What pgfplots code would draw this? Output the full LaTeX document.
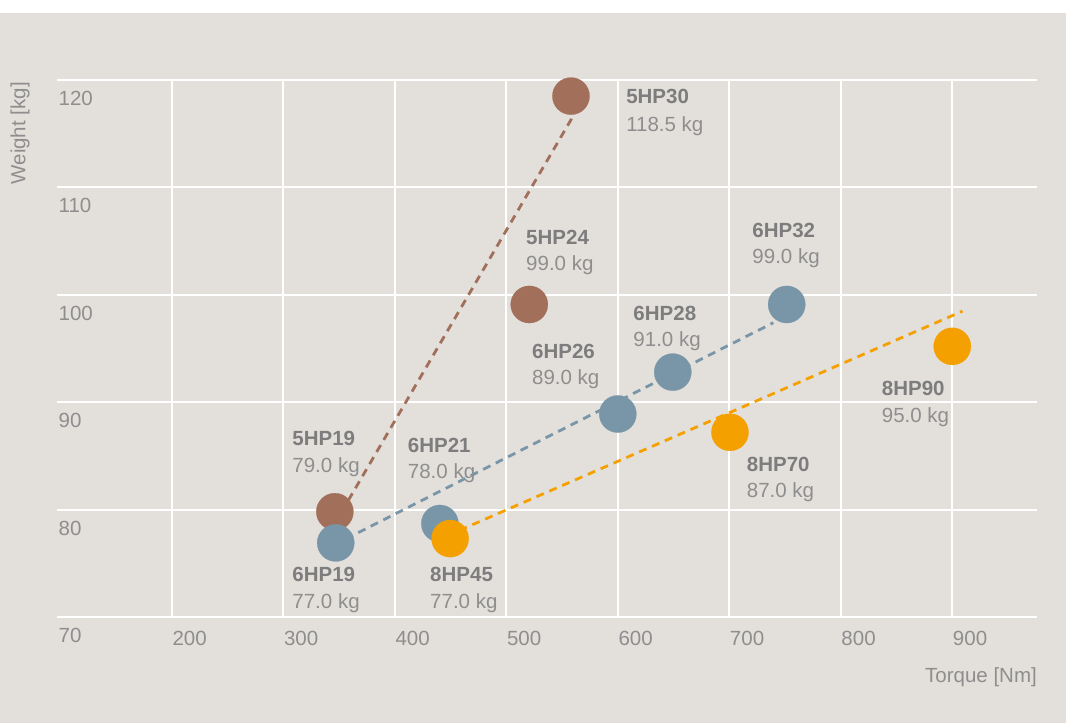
\documentclass[border=0pt]{standalone}
\usepackage{pgfplots}
\pgfplotsset{compat=1.18}
\usepackage{fontspec}
\setmainfont{Liberation Sans}
\definecolor{bg}{HTML}{E3E0DC}
\definecolor{cbrown}{HTML}{A16F5A}
\definecolor{cblue}{HTML}{7896A8}
\definecolor{corange}{HTML}{F4A000}
\definecolor{tname}{HTML}{7D7D7D}
\definecolor{tval}{HTML}{8E8E8E}
\definecolor{ttick}{HTML}{8E8E8E}
\newcommand{\lab}[4]{%
  \node[anchor=base west,inner sep=0pt,text=tname,font=\fontsize{20.5}{24}\selectfont\bfseries] at (axis cs:#1,#2) {#4};}
\newcommand{\val}[3]{%
  \node[anchor=base west,inner sep=0pt,text=tval,font=\fontsize{20.5}{24}\selectfont] at (axis cs:#1,#2) {#3};}
\begin{document}
\begin{tikzpicture}[x=1pt,y=1pt]
\useasboundingbox (0,0) rectangle (1066,723);
\fill[white] (0,0) rectangle (1066,723);
\fill[bg] (0,0) rectangle (1066,710.3);
\begin{axis}[
  at={(57pt,106pt)}, anchor=south west,
  scale only axis, width=980pt, height=537pt,
  xmin=97, xmax=976, ymin=70, ymax=120,
  xtick={200,300,...,900}, ytick={70,80,...,120},
  grid=major, major grid style={white, line width=2pt},
  axis line style={draw=none}, major tick length=0pt,
  clip=false,
  /pgf/number format/assume math mode=true,
  ticklabel style={font=\fontsize{20.5}{24}\selectfont, text=ttick, inner sep=0pt},
  yticklabel style={anchor=base west, xshift=1.5pt, yshift=-25.5pt},
  xticklabel style={anchor=base west, xshift=0.5pt, yshift=-28.7pt},
  xlabel={Torque [Nm]}, ylabel={Weight [kg]},
  xlabel style={at={(axis description cs:1,0)}, anchor=base east, yshift=-66pt, inner sep=0pt, font=\fontsize{20.5}{24}\selectfont, text=ttick},
  ylabel style={at={(axis description cs:0,1)}, anchor=base east, xshift=-2pt, yshift=31.5pt, inner sep=0pt, font=\fontsize{20.5}{24}\selectfont, text=ttick},
]
% trend lines
\addplot[cbrown, line width=2.8pt, dash pattern=on 8pt off 6pt, no marks] coordinates {(352,79.74) (558.6,116.4)};
\addplot[cblue, line width=2.8pt, dash pattern=on 8pt off 6pt, no marks] coordinates {(356,77.27) (739.5,97.4)};
\addplot[corange, line width=2.8pt, dash pattern=on 8pt off 6pt, no marks] coordinates {(458,78.07) (909.2,98.48)};
% bubbles
\addplot[cbrown, only marks, mark=*, mark size=18.6pt, mark options={solid, draw=cbrown, fill=cbrown, line width=0.2pt}] coordinates {(346.2,79.8) (520.6,99.1) (558,118.5)};
\addplot[cblue, only marks, mark=*, mark size=18.6pt, mark options={solid, draw=cblue, fill=cblue, line width=0.2pt}] coordinates {(347,76.9) (440.4,78.7) (600,88.9) (649.3,92.8) (751.5,99.1)};
\addplot[corange, only marks, mark=*, mark size=18.6pt, mark options={solid, draw=corange, fill=corange, line width=0.2pt}] coordinates {(449.6,77.3) (700.6,87.2) (900,95.2)};
% labels
\lab{607.4}{117.77}{}{5HP30} \val{607.4}{115.25}{118.5 kg}
\lab{517.7}{104.70}{}{5HP24} \val{517.7}{102.22}{99.0 kg}
\lab{720.6}{105.38}{}{6HP32} \val{720.6}{102.87}{99.0 kg}
\lab{613.9}{97.59}{}{6HP28} \val{613.9}{95.23}{91.0 kg}
\lab{523.0}{94.09}{}{6HP26} \val{523.0}{91.65}{89.0 kg}
\lab{308.0}{85.95}{}{5HP19} \val{308.0}{83.47}{79.0 kg}
\lab{411.6}{85.34}{}{6HP21} \val{411.6}{82.85}{78.0 kg}
\lab{308.0}{73.29}{}{6HP19} \val{308.0}{70.81}{77.0 kg}
\lab{431.6}{73.29}{}{8HP45} \val{431.6}{70.81}{77.0 kg}
\lab{715.6}{83.59}{}{8HP70} \val{715.6}{81.15}{87.0 kg}
\lab{836.7}{90.67}{}{8HP90} \val{836.7}{88.09}{95.0 kg}
\end{axis}
\end{tikzpicture}
\end{document}
